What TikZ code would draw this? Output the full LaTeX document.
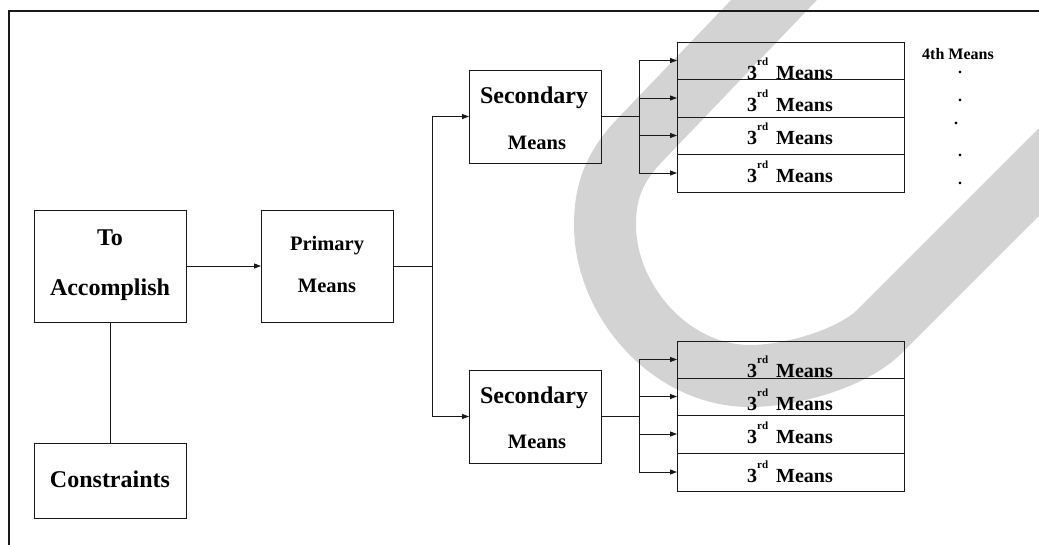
\documentclass[tikz,border=0pt]{standalone}
\usepackage{fontspec}
\setmainfont{Liberation Serif}
\usetikzlibrary{arrows.meta}
\definecolor{wm}{RGB}{211,211,211}
\definecolor{ink}{RGB}{25,25,25}
\newcommand\thirdm{3\raisebox{14pt}{\fontsize{11}{11}\selectfont rd}\hspace{8pt}Means}
\begin{document}
\begin{tikzpicture}[x=1pt,y=-1pt,
 box/.style={draw=ink, line width=0.9pt, inner sep=0pt, outer sep=0pt},
 big/.style={font=\bfseries\fontsize{24}{28}\selectfont, anchor=base, inner sep=0pt},
 mid/.style={font=\bfseries\fontsize{20.5}{24}\selectfont, anchor=base, inner sep=0pt},
 thd/.style={font=\bfseries\fontsize{20}{24}\selectfont, anchor=base, inner sep=0pt},
 sml/.style={font=\bfseries\fontsize{16}{18}\selectfont, anchor=base, inner sep=0pt},
 conn/.style={line width=0.9pt, draw=ink},
 arr/.style={conn, -{Triangle[length=7pt,width=5pt]}},
 frameline/.style={line width=2pt, draw=ink},
 watermark/.style={draw=wm, line width=62pt}]
\useasboundingbox (0,0) rectangle (1039,544);
\begin{scope}
\clip (0,0) rectangle (1039,544);
\draw[watermark] (797,-24) -- (640,140) .. controls (612,169) and (605,195) .. (605,225)
  .. controls (605,300) and (670,376) .. (750,376)
  .. controls (790,376) and (852,359) .. (880,331) -- (1110,101);
\end{scope}

% frame
\draw[frameline] (9,550) -- (9,11) -- (1045,11);

% main boxes
\node[box, minimum width=152pt, minimum height=112pt] (acc) at (110,266) {};
\node[box, minimum width=152pt, minimum height=75pt] (cons) at (110,480.5) {};
\node[box, minimum width=132pt, minimum height=112pt] (prim) at (327,266) {};
\node[box, minimum width=132pt, minimum height=93pt] (secA) at (535,116.5) {};
\node[box, minimum width=132pt, minimum height=93pt] (secB) at (535,416.5) {};

% stacks
\node[box, minimum width=227pt, minimum height=37pt] (a1) at (790.5,60.5) {};
\node[box, minimum width=227pt, minimum height=38pt] (a2) at (790.5,98) {};
\node[box, minimum width=227pt, minimum height=37pt] (a3) at (790.5,135.5) {};
\node[box, minimum width=227pt, minimum height=38pt] (a4) at (790.5,173) {};
\node[box, minimum width=227pt, minimum height=37pt] (b1) at (790.5,359.5) {};
\node[box, minimum width=227pt, minimum height=37pt] (b2) at (790.5,396.5) {};
\node[box, minimum width=227pt, minimum height=38pt] (b3) at (790.5,434) {};
\node[box, minimum width=227pt, minimum height=38pt] (b4) at (790.5,472) {};

% texts
\node[big] (tTo) at (110,245) {To};
\node[big] (tAcc) at (110,295) {Accomplish};
\node[big] (tCons) at (110,487) {Constraints};
\node[mid] (tPrim) at (327,250) {Primary};
\node[mid] (tPrimM) at (327,292) {Means};
\node[big] (tSecA) at (534,103) {Secondary};
\node[mid] (tSecAM) at (537,149) {Means};
\node[big] (tSecB) at (534,403) {Secondary};
\node[mid] (tSecBM) at (537,448) {Means};

\node[thd] (ta1) at (790,79) {\thirdm};
\node[thd] (ta2) at (790,111) {\thirdm};
\node[thd] (ta3) at (790,144) {\thirdm};
\node[thd] (ta4) at (790,182) {\thirdm};
\node[thd] (tb1) at (790,377) {\thirdm};
\node[thd] (tb2) at (790,410) {\thirdm};
\node[thd] (tb3) at (790,443) {\thirdm};
\node[thd] (tb4) at (790,482) {\thirdm};

\node[sml] (fourth) at (958,59) {4th Means};
\node[sml] (d1) at (960,73) {.};
\node[sml] (d2) at (960,101) {.};
\node[sml] (d3) at (956,124) {.};
\node[sml] (d4) at (960,156) {.};
\node[sml] (d5) at (960,184) {.};

% connectors
\draw[arr] (acc.east) -- (prim.west);
\draw[conn] (acc.south) -- (cons.north);
\draw[conn] (prim.east) -- ++(39,0) coordinate (j1);
\draw[arr] (j1) |- (secA.west);
\draw[arr] (j1) |- (secB.west);

\draw[conn] (secA.east) -- ++(38,0) coordinate (jA);
\draw[arr] (jA) |- (a1.west);
\draw[arr] (jA) |- (a2.west);
\draw[arr] (jA) |- (a3.west);
\draw[arr] (jA) |- (a4.west);

\draw[conn] (secB.east) -- ++(38,0) coordinate (jB);
\draw[arr] (jB) |- (b1.west);
\draw[arr] (jB) |- (b2.west);
\draw[arr] (jB) |- (b3.west);
\draw[arr] (jB) |- (b4.west);
\end{tikzpicture}
\end{document}
